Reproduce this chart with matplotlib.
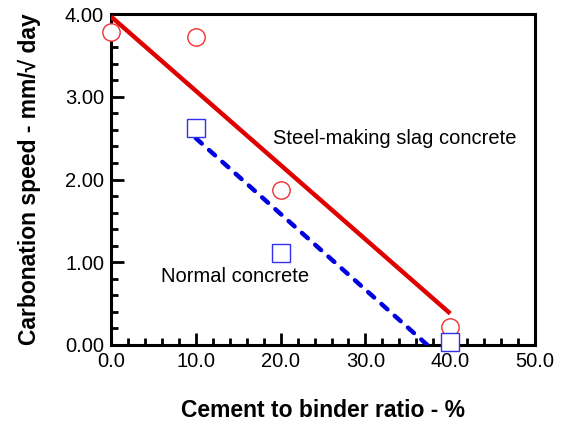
import matplotlib.pyplot as plt
from matplotlib.ticker import MultipleLocator, FormatStrFormatter

plt.rcParams['font.family'] = ['Liberation Sans', 'DejaVu Sans']

# measured points
ratio = [0, 10, 20, 40]
slag_speed = [3.78, 3.72, 1.87, 0.22]
normal_ratio = [10, 20, 40]
normal_speed = [2.62, 1.11, 0.04]

# fitted lines (end points)
slag_fit_x = [0, 40]
slag_fit_y = [3.97, 0.38]
normal_fit_x = [10, 37.3]
normal_fit_y = [2.50, 0.0]

red = '#e00000'
blue = '#0000e0'

fig = plt.figure(figsize=(5.65, 4.41), dpi=100)
ax = fig.add_axes([0.1965, 0.2177, 0.7505, 0.7503])

ax.plot(slag_fit_x, slag_fit_y, color=red, lw=3.2, solid_capstyle='butt', zorder=3)
ax.plot(normal_fit_x, normal_fit_y, color=blue, lw=3.2, dashes=(1.8, 2.2),
        dash_capstyle='round', zorder=3)

ax.plot(ratio, slag_speed, 'o', ms=12.5, mfc='white', mec='#ee3030', mew=1,
        clip_on=False, zorder=5)
ax.plot(normal_ratio, normal_speed, 's', ms=12.5, mfc='white', mec='#3030ee', mew=1,
        clip_on=False, zorder=5)

ax.text(19.1, 2.50, 'Steel-making slag concrete', fontsize=14.5, va='center', ha='left')
ax.text(5.9, 0.83, 'Normal concrete', fontsize=14.5, va='center', ha='left')

ax.set_xlim(0, 50)
ax.set_ylim(0, 4)
ax.xaxis.set_major_locator(MultipleLocator(10))
ax.xaxis.set_minor_locator(MultipleLocator(2))
ax.yaxis.set_major_locator(MultipleLocator(1))
ax.yaxis.set_minor_locator(MultipleLocator(0.2))
ax.xaxis.set_major_formatter(FormatStrFormatter('%.1f'))
ax.yaxis.set_major_formatter(FormatStrFormatter('%.2f'))

for s in ax.spines.values():
    s.set_linewidth(2.2)
ax.tick_params(which='both', direction='in', top=False, right=False,
               labelsize=14.5, width=2)
ax.tick_params(which='major', length=9, pad=5)
ax.tick_params(which='minor', length=5)

ax.set_xlabel('Cement to binder ratio - %', fontsize=16.5, fontweight='bold',
              labelpad=20)
ax.set_ylabel('Carbonation speed - mm/\u221a day', fontsize=16.5, fontweight='bold',
              labelpad=17)

fig.savefig('out.png', dpi=100)
